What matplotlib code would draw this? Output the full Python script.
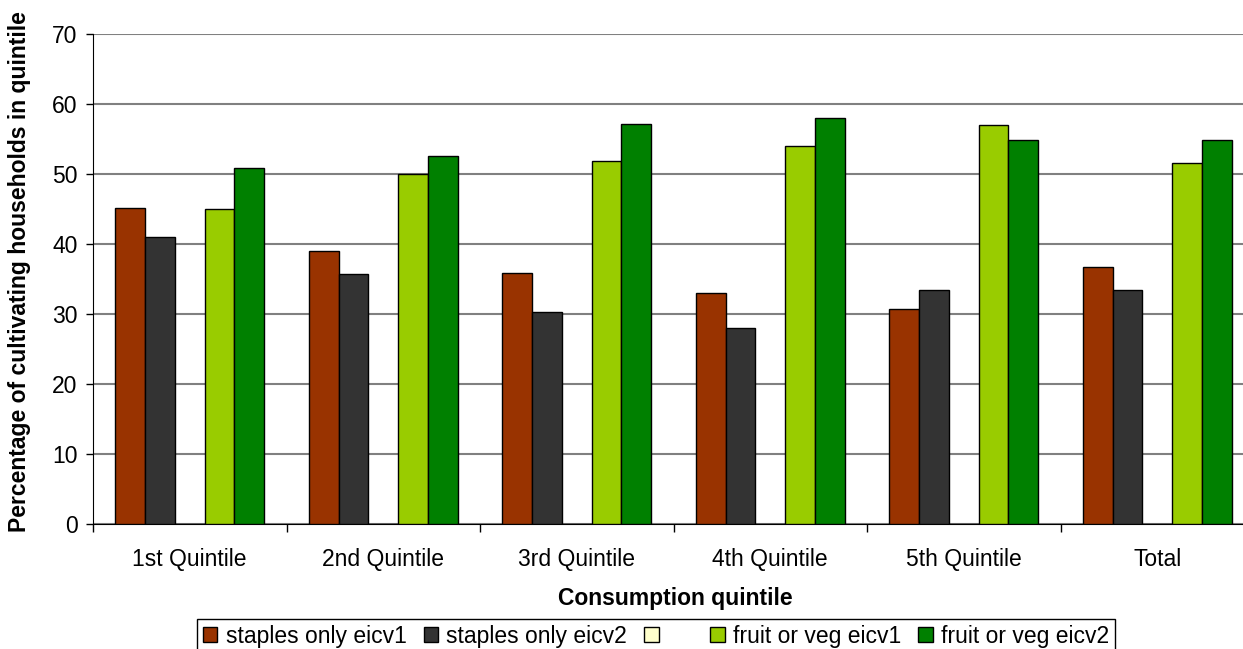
import numpy as np
import matplotlib.pyplot as plt

plt.rcParams['font.family'] = ['Liberation Sans', 'DejaVu Sans']

# categories and series values
quintiles = ['1st Quintile', '2nd Quintile', '3rd Quintile', '4th Quintile', '5th Quintile', 'Total']
staples_eicv1 = [45.2, 39.0, 35.8, 33.0, 30.7, 36.7]
staples_eicv2 = [41.0, 35.7, 30.3, 28.0, 33.4, 33.5]
blank_series = [0, 0, 0, 0, 0, 0]
fruitveg_eicv1 = [45.0, 50.0, 51.9, 54.0, 57.0, 51.6]
fruitveg_eicv2 = [50.8, 52.6, 57.2, 58.0, 54.8, 54.8]

series = [
    ('staples only eicv1', staples_eicv1, '#993300'),
    ('staples only eicv2', staples_eicv2, '#333333'),
    ('    ', blank_series, '#FFFFCC'),
    ('fruit or veg eicv1', fruitveg_eicv1, '#99CC00'),
    ('fruit or veg eicv2', fruitveg_eicv2, '#008000'),
]

fs = 16.5

fig = plt.figure(figsize=(12.43, 6.49), dpi=100)
# axes run slightly past the right edge, as in the original (clipped)
ax = fig.add_axes([93 / 1243, 125 / 649, 1161 / 1243, 490 / 649])

x = np.arange(len(quintiles))
w = 0.1535
start = -0.5 + (1 - 5 * w) / 2

handles = []
for k, (label, vals, col) in enumerate(series):
    pos = x + start + k * w + w / 2
    b = ax.bar(pos, vals, width=w, color=col, edgecolor='black', linewidth=1.0,
               label=label, zorder=3)
    handles.append(b)

ax.set_xlim(-0.5, len(quintiles) - 0.5)
ax.set_ylim(0, 70)
ax.set_yticks(range(0, 71, 10))
ax.yaxis.grid(True, color='#808080', linewidth=1.5, zorder=0)
ax.set_axisbelow(True)

ax.set_xticks(x)
ax.set_xticklabels(quintiles, fontsize=fs)
ax.set_xticks(np.arange(-0.5, len(quintiles), 1), minor=True)
ax.tick_params(axis='x', which='major', length=0, pad=17)
ax.tick_params(axis='x', which='minor', length=6, width=1, direction='out')
ax.tick_params(axis='y', labelsize=fs, length=5, width=1, direction='out', pad=6)

for s in ['top', 'right']:
    ax.spines[s].set_visible(False)
ax.spines['left'].set_color('black')
ax.spines['bottom'].set_color('black')

fig.text(675 / 1243, 1 - 598 / 649, 'Consumption quintile', fontsize=fs,
         fontweight='bold', ha='center', va='center')
fig.text(20 / 1243, 1 - 272 / 649, 'Percentage of cultivating households in quintile',
         rotation=90, fontsize=fs, fontweight='bold', ha='center', va='center')

leg = fig.legend(handles=handles, labels=[s[0] for s in series], loc='upper center',
                 bbox_to_anchor=(656 / 1243, 1 - 619 / 649), ncol=5, fontsize=fs,
                 frameon=True, fancybox=False, edgecolor='black', framealpha=1,
                 handlelength=0.65, handleheight=0.65, handletextpad=0.35,
                 columnspacing=0.75, borderpad=0.25, borderaxespad=0)
leg.get_frame().set_linewidth(1.0)

fig.savefig('out.png', dpi=100)
